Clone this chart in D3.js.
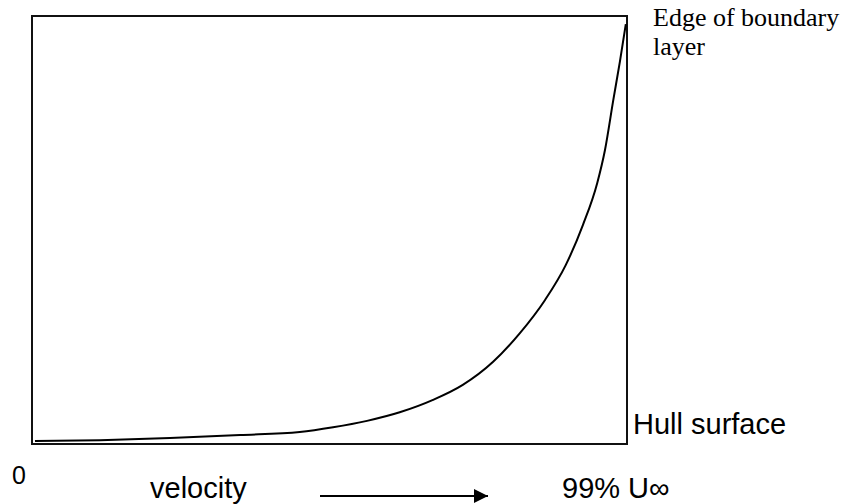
<!DOCTYPE html>
<html>
<head>
<meta charset="utf-8">
<script src="https://cdn.jsdelivr.net/npm/d3@7"></script>
<style>
  body { margin: 0; background: #fff; }
  .sans { font-family: "Liberation Sans", Arial, sans-serif; fill: #000; }
  .serif { font-family: "Liberation Serif", "Times New Roman", serif; fill: #000; }
</style>
</head>
<body>
<script>
var w = 844;
var h = 504;

// velocity profile, both in % (u/U∞ and y/δ)
var velocity = [0.5, 11.4, 23.2, 35.0, 45.0, 50.6, 56.3, 61.8, 67.4, 72.4,
                77.5, 82.0, 86.2, 89.7, 92.6, 95.0, 96.3, 97.7, 98.8, 99.8];
var height   = [0.7, 0.9, 1.4, 2.1, 2.8, 3.9, 5.4, 7.4, 10.3, 13.8,
                19.2, 25.9, 33.6, 41.8, 51.2, 61.0, 68.7, 80.4, 89.3, 98.1];

var box = { left: 32, right: 627, top: 16, bottom: 444 };

var xScale = d3.scaleLinear().domain([0, 100]).range([box.left, box.right]);
var yScale = d3.scaleLinear().domain([0, 100]).range([box.bottom, box.top]);

var svg = d3.select("body")
    .append("svg")
    .attr("width", w)
    .attr("height", h);

svg.append("defs").append("marker")
    .attr("id", "arrow")
    .attr("viewBox", "0 0 10 10")
    .attr("refX", 10).attr("refY", 5)
    .attr("markerWidth", 15).attr("markerHeight", 14)
    .attr("markerUnits", "userSpaceOnUse")
    .attr("orient", "auto")
    .append("path")
    .attr("d", "M0,0L10,5L0,10Z")
    .attr("fill", "#000");

// frame
svg.append("rect")
    .attr("x", xScale(0))
    .attr("y", yScale(100))
    .attr("width", xScale(100) - xScale(0))
    .attr("height", yScale(0) - yScale(100))
    .attr("fill", "none")
    .attr("stroke", "#111")
    .attr("stroke-width", 2);

// profile
var pts = velocity.map(function(v, i) { return [v, height[i]]; });
var line = d3.line()
    .curve(d3.curveMonotoneX)
    .x(function(d) { return xScale(d[0]); })
    .y(function(d) { return yScale(d[1]); });

svg.append("path")
    .datum(pts)
    .attr("d", line)
    .attr("fill", "none")
    .attr("stroke", "#000")
    .attr("stroke-width", 2)
    .attr("stroke-linejoin", "round");

// labels
var serif = svg.append("text").attr("class", "serif").style("font-size", "26px");
serif.append("tspan").attr("x", 653).attr("y", 26).text("Edge of boundary");
serif.append("tspan").attr("x", 653).attr("y", 55).text("layer");

svg.append("text").attr("class", "sans").style("font-size", "29px")
    .attr("x", 633).attr("y", 434).text("Hull surface");

svg.append("text").attr("class", "sans").style("font-size", "25px")
    .attr("x", 12).attr("y", 484).text("0");

svg.append("text").attr("class", "sans").style("font-size", "29px")
    .attr("x", 150).attr("y", 498).text("velocity");

svg.append("text").attr("class", "sans").style("font-size", "29px")
    .attr("x", 562).attr("y", 498).text("99% U\u221e");

svg.append("line")
    .attr("x1", 320).attr("y1", 496)
    .attr("x2", 488).attr("y2", 496)
    .attr("stroke", "#000")
    .attr("stroke-width", 2)
    .attr("marker-end", "url(#arrow)");
</script>
</body>
</html>
